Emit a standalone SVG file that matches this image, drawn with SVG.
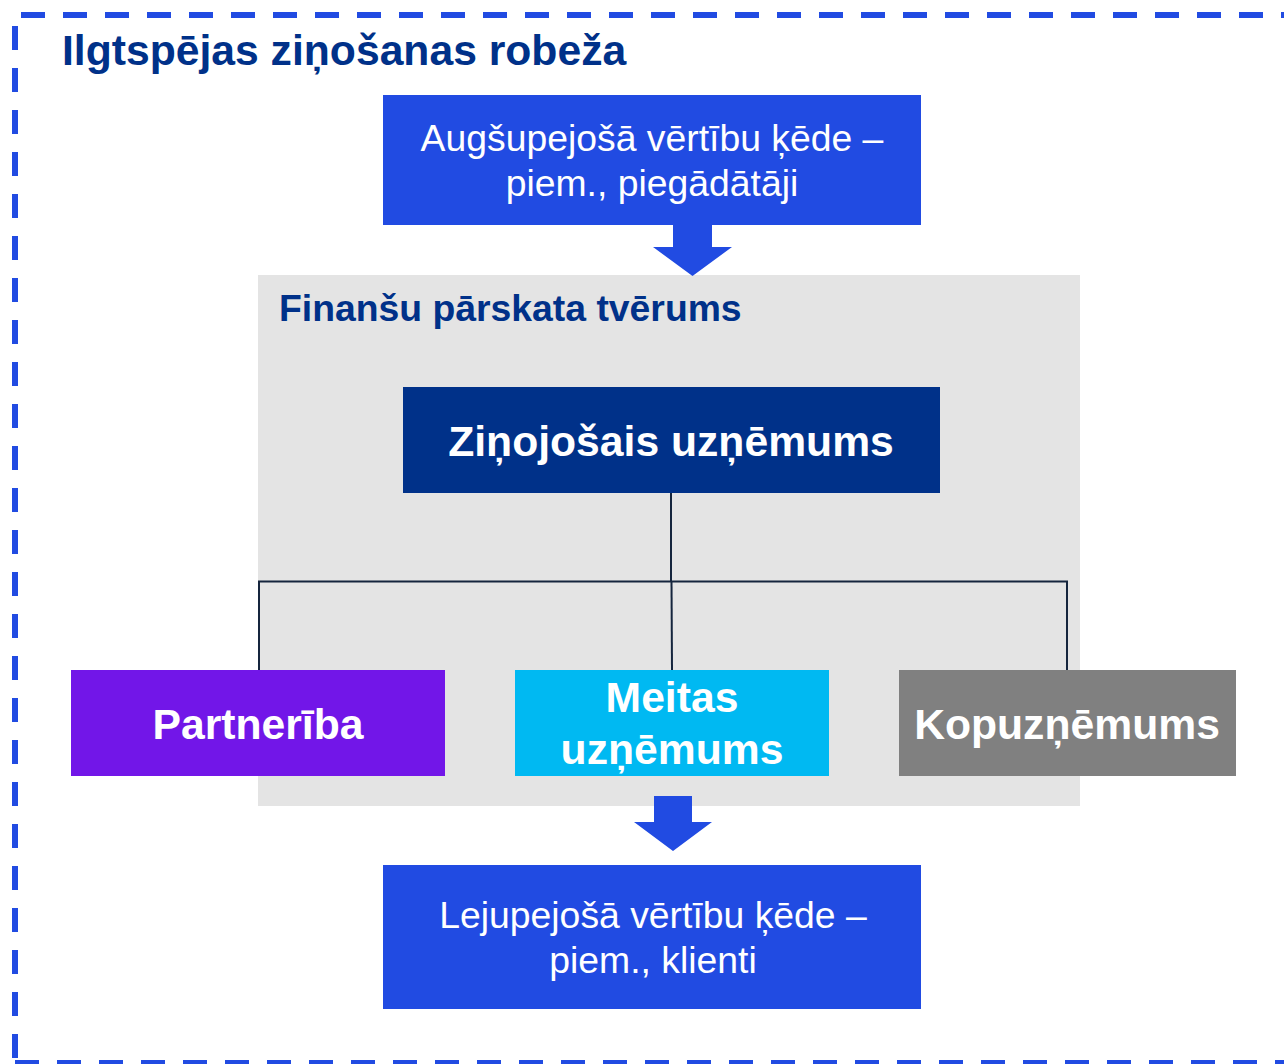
<svg xmlns="http://www.w3.org/2000/svg" width="1284" height="1064" viewBox="0 0 1284 1064">
<style>
.t{font-family:"Liberation Sans",Arial,sans-serif;text-anchor:middle;fill:#fff}
.b{font-weight:bold;font-size:42.67px}
.r{font-size:37.33px}
.h{font-family:"Liberation Sans",Arial,sans-serif;font-weight:bold;fill:#003189}
.blue{fill:#214BE2}
.dash{fill:none;stroke:#214BE2;stroke-width:6;stroke-dasharray:24 18}
.conn{fill:none;stroke:#15253D;stroke-width:2}
</style>
<rect width="1284" height="1064" fill="#fff"/>
<g id="boundary">
<line class="dash" x1="21" y1="15" x2="1290" y2="15"/>
<line class="dash" x1="15" y1="26" x2="15" y2="1064"/>
<line class="dash" x1="15" y1="1063" x2="1290" y2="1063"/>
<text class="h" x="62" y="65" font-size="42.67">Ilgtspējas ziņošanas robeža</text>
</g>
<g id="scope">
<rect x="258" y="275" width="822" height="531" fill="#E4E4E4"/>
<text class="h" x="279" y="321" font-size="37.33">Finanšu pārskata tvērums</text>
</g>
<g id="connectors">
<polyline class="conn" points="671,493 671,581"/>
<polyline class="conn" points="259,670 259,581.5 1067,581.5 1067,670"/>
<line class="conn" x1="671.5" y1="581" x2="672" y2="670"/>
<polygon class="blue" points="673,225 712,225 712,247 732,247 692.5,276 653,247 673,247"/>
<polygon class="blue" points="654,796 692,796 692,822 712,822 673,851 634,822 654,822"/>
</g>
<g id="upstream">
<rect class="blue" x="383" y="95" width="538" height="130"/>
<text class="t r" x="652" y="151">Augšupejošā vērtību ķēde –</text>
<text class="t r" x="652" y="196">piem., piegādātāji</text>
</g>
<g id="reporting">
<rect x="403" y="387" width="537" height="106" fill="#003189"/>
<text class="t b" x="671" y="456">Ziņojošais uzņēmums</text>
</g>
<g id="partnership">
<rect x="71" y="670" width="374" height="106" fill="#7216E8"/>
<text class="t b" x="258" y="739">Partnerība</text>
</g>
<g id="subsidiary">
<rect x="515" y="670" width="314" height="106" fill="#00B9F2"/>
<text class="t b" x="672" y="712">Meitas</text>
<text class="t b" x="672" y="764">uzņēmums</text>
</g>
<g id="jointventure">
<rect x="899" y="670" width="337" height="106" fill="#808080"/>
<text class="t b" x="1067" y="739">Kopuzņēmums</text>
</g>
<g id="downstream">
<rect class="blue" x="383" y="865" width="538" height="144"/>
<text class="t r" x="653" y="928">Lejupejošā vērtību ķēde –</text>
<text class="t r" x="653" y="973">piem., klienti</text>
</g>
</svg>
